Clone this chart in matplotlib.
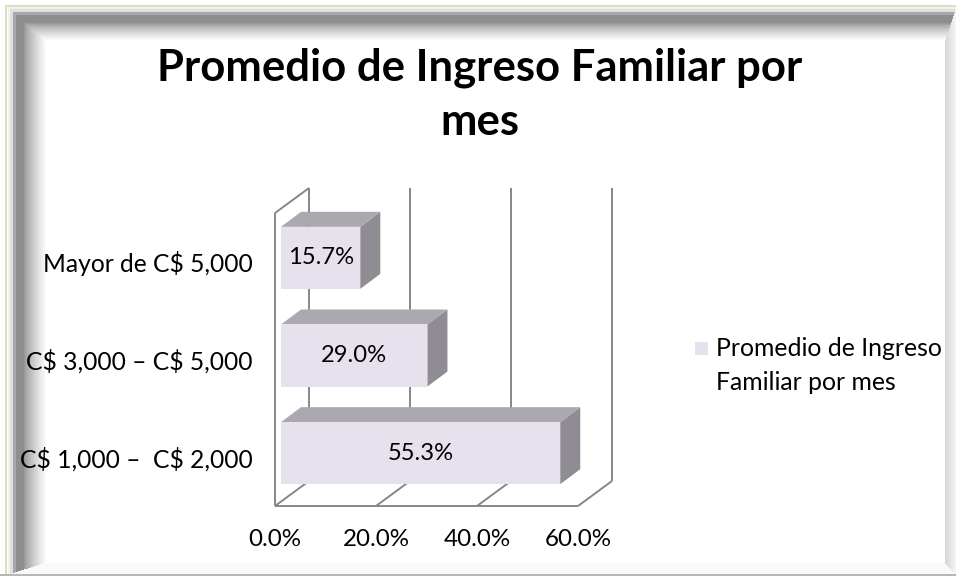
import numpy as np
import matplotlib
matplotlib.use("Agg")
import matplotlib.pyplot as plt
from matplotlib.patches import Polygon, Rectangle
from matplotlib.transforms import offset_copy

# ---------------- data ----------------
categories = ["C$ 1,000 –  C$ 2,000", "C$ 3,000 – C$ 5,000", "Mayor de C$ 5,000"]
values = [55.3, 29.0, 15.7]
value_labels = ["55.3%", "29.0%", "15.7%"]
xticks = [0, 20, 40, 60]
xtick_labels = ["0.0%", "20.0%", "40.0%", "60.0%"]
title_lines = ["Promedio de Ingreso Familiar por", "mes"]
legend_lines = ["Promedio de Ingreso", "Familiar por mes"]

# ---------------- styles ----------------
FONT = "Lato"
W, H = 956, 576
FRONT = "#E6E1EC"
TOP = "#ABA8B0"
SIDE = "#8F8C94"
GRID = "#878787"

fig = plt.figure(figsize=(W / 100, H / 100), dpi=100)
renderer = fig.canvas.get_renderer()

# ---------------- background frame (decoration) ----------------
yy, xx = np.mgrid[0:H, 0:W].astype(float)
img = np.ones((H, W))
ox0, oy0, ox1, oy1 = 8.0, 7.0, 956.0, 574.0
ix0, iy0, ix1, iy1 = 46.0, 42.0, 944.0, 562.0
fl = (xx - ox0) / (ix0 - ox0)
ft = (yy - oy0) / (iy0 - oy0)
fr = (ox1 - xx) / (ox1 - ix1)
fb = (oy1 - yy) / (oy1 - iy1)
stack = np.stack([fl, ft, fr, fb])
band = np.argmin(stack, axis=0)
fmin = np.min(stack, axis=0)
inframe = (fmin >= 0) & (fmin < 1)

dl = xx - ox0
dt = yy - oy0


def prof(d, full):
    ramp = np.clip((d - 15) / (full - 15), 0, 1)
    return np.where(d < 2, 0.95, np.where(d < 5, 0.88, np.where(d < 8, 0.66,
                    np.where(d < 15, 0.56, 0.56 + 0.44 * ramp ** 0.75))))


v_left = prof(dl, 38.0)
v_top = prof(dt, 33.0)
v_right = 0.97 - 0.14 * np.clip(fr, 0, 1)
v_bot = np.full_like(fb, 0.98)
val = np.select([band == 0, band == 1, band == 2], [v_left, v_top, v_right], v_bot)
img = np.where(inframe, val, img)
img[(yy >= 574)] = 0.72
rgb = np.dstack([img, img, img])
green = np.array([0.84, 0.89, 0.74])
gmask = ((yy >= 5) & (yy < 7) & (xx >= 5)) | ((xx >= 5) & (xx < 7) & (yy >= 5) & (yy < 574))
rgb[gmask] = green

bg = fig.add_axes([0, 0, 1, 1])
bg.imshow(rgb, extent=(0, W, H, 0), interpolation="nearest", aspect="auto")
bg.set_xlim(0, W)
bg.set_ylim(H, 0)
bg.axis("off")


def fit(text, target, weight="normal", base=20.0):
    t = fig.text(0, 0, text, fontsize=base, family=FONT, weight=weight, parse_math=False)
    w = t.get_window_extent(renderer).width
    t.remove()
    return base * target / w


# ---------------- main 3D-like axes (front plane) ----------------
px0, px1, pytop, pybot = 275.0, 578.0, 213.0, 506.0
ax = fig.add_axes([px0 / W, (H - pybot) / H, (px1 - px0) / W, (pybot - pytop) / H])
ax.set_xlim(0, 60)
ax.set_ylim(-0.5, 2.5)
ax.axis("off")
ax.patch.set_alpha(0)

sx = 60.0 / (px1 - px0)    # data per pixel (x)
sy = 3.0 / (pybot - pytop)  # data per pixel (y)
Dx, Dy = 34 * sx, 25 * sy          # box depth
d0x, d0y = 6 * sx, 4 * sy          # bar front offset
dbx, dby = 20 * sx, 15 * sy        # bar depth
bh = 0.635                         # bar height

lkw = dict(color=GRID, lw=1.4, clip_on=False, zorder=1, solid_capstyle="butt")
ymin, ymax = -0.5, 2.5
for t in xticks:
    ax.plot([t + Dx, t + Dx], [ymin + Dy, ymax + Dy], **lkw)
    ax.plot([t, t + Dx], [ymin, ymin + Dy], **lkw)
ax.plot([0, 60], [ymin, ymin], **lkw)
ax.plot([0, 0], [ymin, ymax], **lkw)
ax.plot([0, Dx], [ymax, ymax + Dy], **lkw)

for i, v in enumerate(values):
    x0 = d0x
    x1 = v + d0x
    y0 = i - bh / 2 + d0y
    y1 = i + bh / 2 + d0y
    side = Polygon([[x1, y0], [x1 + dbx, y0 + dby], [x1 + dbx, y1 + dby], [x1, y1]],
                   closed=True, fc=SIDE, ec="none", zorder=2, clip_on=False)
    top = Polygon([[x0, y1], [x1, y1], [x1 + dbx, y1 + dby], [x0 + dbx, y1 + dby]],
                  closed=True, fc=TOP, ec="none", zorder=2, clip_on=False)
    front = Rectangle((x0, y0), x1 - x0, y1 - y0, fc=FRONT, ec="none", zorder=3, clip_on=False)
    for p in (side, top, front):
        ax.add_patch(p)

fs_tick = fit("20.0%", 67)
fs_val = fit("15.7%", 66)
fs_cat = fit("Mayor de C$ 5,000", 210)
fs_leg = fit(legend_lines[0], 226)
fs_title = fit(title_lines[0], 645, weight="bold")

for i, (v, lab) in enumerate(zip(values, value_labels)):
    ax.text(v / 2 + d0x, i + d0y, lab, ha="center", va="center", fontsize=fs_val,
            family=FONT, color="black", zorder=4)

cat_tr = offset_copy(ax.transData, fig, x=-22, y=-2, units="dots")
for i, c in enumerate(categories):
    ax.text(0, i, c, transform=cat_tr, ha="right", va="center", fontsize=fs_cat,
            family=FONT, color="black", parse_math=False)

tick_tr = offset_copy(ax.transData, fig, x=0, y=-34, units="dots")
for t, lab in zip(xticks, xtick_labels):
    ax.text(t, ymin, lab, transform=tick_tr, ha="center", va="center", fontsize=fs_tick,
            family=FONT, color="black")

fig.text(480 / W, 1 - 68 / H, title_lines[0], ha="center", va="center", fontsize=fs_title,
         weight="bold", family=FONT, color="black")
fig.text(480 / W, 1 - 122 / H, title_lines[1], ha="center", va="center", fontsize=fs_title,
         weight="bold", family=FONT, color="black")

bg.add_patch(Rectangle((695, 342), 13, 13, fc=FRONT, ec="none"))
bg.text(716, 349, legend_lines[0], ha="left", va="center", fontsize=fs_leg, family=FONT)
bg.text(716, 382, legend_lines[1], ha="left", va="center", fontsize=fs_leg, family=FONT)

fig.savefig("out.png", dpi=100)
